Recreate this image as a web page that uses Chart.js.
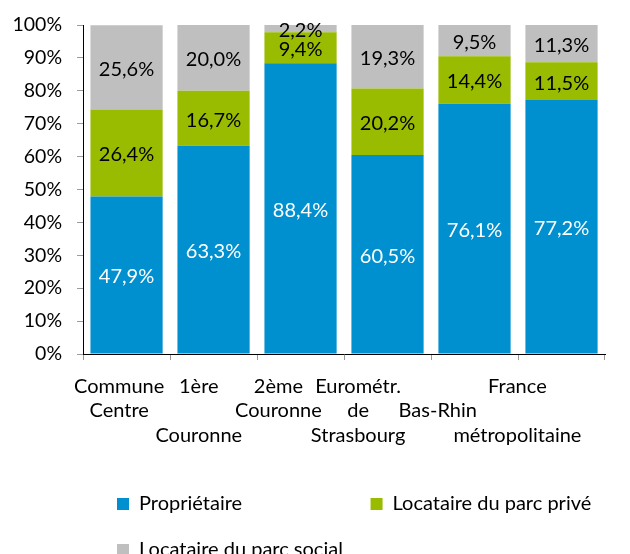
<!DOCTYPE html>
<html>
<head>
<meta charset="utf-8">
<script src="https://cdn.jsdelivr.net/npm/chart.js@4.4.1/dist/chart.umd.min.js"></script>
<style>
  html, body { margin: 0; padding: 0; background: #fff; }
  #wrap { width: 630px; height: 554px; position: relative; }
</style>
</head>
<body>
<div id="wrap"><canvas id="chart"></canvas></div>
<script>
// Statut d'occupation des résidences principales (%)
const categories = ['Commune Centre', '1ère Couronne', '2ème Couronne', 'Eurométr. de Strasbourg', 'Bas-Rhin', 'France métropolitaine'];
// axis label lines as laid out in the original ('' = blank line)
const xLabelLines = [
  ['Commune', 'Centre', ''],
  ['1ère', '', 'Couronne'],
  ['2ème', 'Couronne', ''],
  ['Eurométr.', 'de', 'Strasbourg'],
  ['', 'Bas-Rhin', ''],
  ['France', '', 'métropolitaine'],
];
const seriesNames = ['Propriétaire', 'Locataire du parc privé', 'Locataire du parc social'];
const proprietaire = [47.9, 63.3, 88.4, 60.5, 76.1, 77.2];
const locPrive = [26.4, 16.7, 9.4, 20.2, 14.4, 11.5];
const locSocial = [25.6, 20.0, 2.2, 19.3, 9.5, 11.3];
const yMax = 100;
const yStep = 10;

const FONT = 'Lato';
const FS = 20;
const colors = ['#0090D0', '#99BB00', '#BFBFBF'];
const labelColors = ['#ffffff', '#000000', '#000000'];

const fmt = (v) => v.toFixed(1).replace('.', ',') + '%';

// value in the middle of each segment
const barLabels = {
  id: 'barLabels',
  afterDatasetsDraw(chart) {
    const ctx = chart.ctx;
    ctx.save();
    ctx.font = `${FS}px ${FONT}`;
    ctx.textAlign = 'center';
    ctx.textBaseline = 'middle';
    chart.data.datasets.forEach((ds, di) => {
      const meta = chart.getDatasetMeta(di);
      ctx.fillStyle = labelColors[di];
      meta.data.forEach((bar, i) => {
        ctx.fillText(fmt(ds.data[i]), bar.x, (bar.y + bar.base) / 2 + 2);
      });
    });
    ctx.restore();
  },
};

const legendPad = 26;
const legendRowX = 117;   // left edge of the legend boxes
const legendRowY = 494;   // top of the first legend row
const colStep = 254;      // distance between the two legend columns

// put the legend rows where the original has them
const legendPlace = {
  id: 'legendPlace',
  afterLayout(chart) {
    const lg = chart.legend;
    if (!lg) return;
    const h = lg.height;
    lg.left = legendRowX - legendPad;
    lg.right = chart.width;
    lg.width = lg.right - lg.left;
    lg.top = legendRowY - legendPad;
    lg.bottom = lg.top + h;
  },
};

new Chart(document.getElementById('chart'), {
  type: 'bar',
  data: {
    labels: categories,
    datasets: [
      { label: seriesNames[0], data: proprietaire, backgroundColor: colors[0] },
      { label: seriesNames[1], data: locPrive, backgroundColor: colors[1] },
      { label: seriesNames[2], data: locSocial, backgroundColor: colors[2] },
    ].map((d) => ({ ...d, categoryPercentage: 1, barPercentage: 0.83, borderWidth: 0 })),
  },
  options: {
    responsive: true,
    maintainAspectRatio: false,
    animation: false,
    layout: { padding: { top: 25, left: 12.5, right: 25, bottom: 4.5 } },
    plugins: {
      tooltip: { enabled: false },
      legend: {
        position: 'bottom',
        align: 'start',
        labels: {
          font: { family: FONT, size: FS },
          color: '#000',
          boxWidth: 12,
          boxHeight: 12,
          padding: legendPad,
          generateLabels(chart) {
            const items = Chart.defaults.plugins.legend.labels.generateLabels(chart);
            // widen the first entry so the second one lands in the right column
            const ctx = chart.ctx;
            ctx.save();
            ctx.font = `${FS}px ${FONT}`;
            const target = colStep - legendPad - 12 - FS / 2;
            let t = items[0].text;
            while (ctx.measureText(t + ' ').width <= target) t += ' ';
            items[0].text = t;
            ctx.restore();
            return items;
          },
        },
      },
    },
    scales: {
      x: {
        stacked: true,
        weight: 0,
        ticks: { display: false },
        grid: { drawOnChartArea: false, drawTicks: true, tickLength: 6, color: '#9a9a9a' },
        border: { display: true, color: '#000', width: 1 },
      },
      // second axis only carries the category labels, shifted like the original
      x2: {
        type: 'linear',
        position: 'bottom',
        weight: 1,
        offset: false,
        bounds: 'data',
        min: -0.453,
        max: 6.10,
        grid: { display: true, offset: false, drawOnChartArea: false, drawTicks: true, tickLength: 14, color: 'transparent' },
        border: { display: false },
        afterBuildTicks(scale) {
          scale.ticks = categories.map((_, i) => ({ value: i }));
        },
        ticks: {
          autoSkip: false,
          maxRotation: 0,
          minRotation: 0,
          padding: 0,
          color: '#000',
          font: { family: FONT, size: FS, lineHeight: 1.225 },
          callback: (v, i) => xLabelLines[i],
        },
      },
      y: {
        stacked: true,
        min: 0,
        max: yMax,
        afterFit(scale) {
          // padding is counted on both sides of the labels; keep only the inner one
          scale.width -= scale.options.ticks.padding;
        },
        ticks: {
          stepSize: yStep,
          padding: 15,
          color: '#000',
          font: { family: FONT, size: 19.5, lineHeight: 1 },
          callback: (v) => v + '%',
        },
        grid: { drawOnChartArea: false, drawTicks: true, tickLength: 6, color: '#9a9a9a' },
        border: { display: true, color: '#000', width: 1 },
      },
    },
  },
  plugins: [barLabels, legendPlace],
});
</script>
</body>
</html>
